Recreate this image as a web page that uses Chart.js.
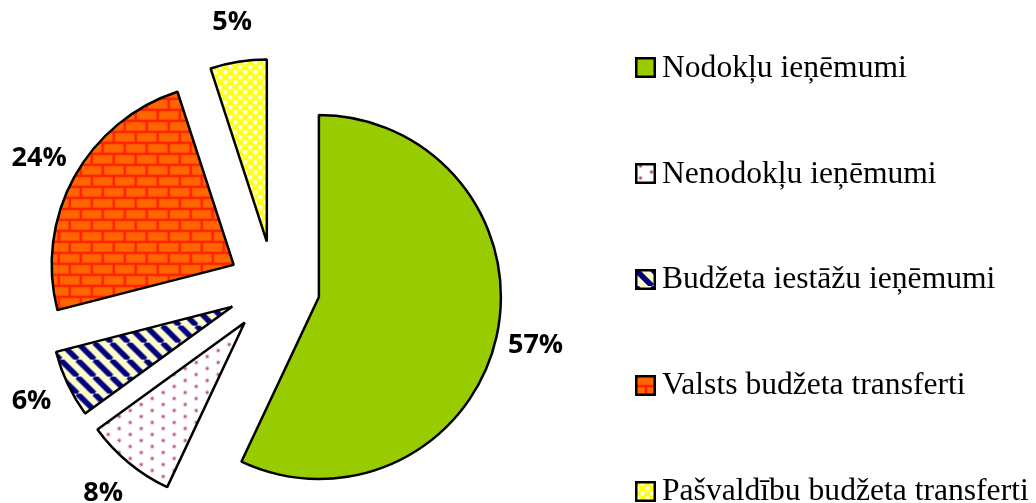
<!DOCTYPE html>
<html>
<head>
  <title>Ieņēmumu struktūra</title>
  <script src="https://cdn.jsdelivr.net/npm/chart.js"></script>
  <style>
    body {
      margin: 0;
      background: #fff;
      overflow: hidden;
    }

    .wrap {
      position: relative;
      width: 1036px;
      height: 503px;
    }

    .chart-box {
      position: absolute;
      left: 0;
      top: 0;
      width: 1036px;
      height: 503px;
    }

    /* legend on the right */
    .legend {
      position: absolute;
      left: 635px;
      top: 14px;
    }

    .legend-item {
      height: 105.8px;
      display: flex;
      align-items: center;
      font-family: 'Liberation Serif', 'Times New Roman', serif;
      font-size: 31.6px;
      color: #000;
      white-space: nowrap;
    }

    .legend-item canvas {
      width: 21px;
      height: 21px;
      margin-right: 6px;
      margin-top: 2px;
    }
  </style>
</head>
<body>
  <div class="wrap">
    <div class="chart-box"><canvas id="pieChart"></canvas></div>
    <div class="legend" id="legend"></div>
  </div>

  <script>
    // Data
    const labels = [
      'Nodokļu ieņēmumi',
      'Nenodokļu ieņēmumi',
      'Budžeta iestāžu ieņēmumi',
      'Valsts budžeta transferti',
      'Pašvaldību budžeta transferti'
    ];
    const shares = [57, 8, 6, 24, 5];

    // fill style for each slice, same order as labels
    const fills = ['solid', 'dots', 'stripes', 'bricks', 'spheres'];

    const explode = 46;     // how far every slice is pulled out
    const labelGap = 40;    // percentage label distance outside the rim

    // Pattern tiles (drawn roughly like the Excel fills)
    function makeFill(ctx, kind) {
      if (kind === 'solid') return '#99cc00';

      const tile = document.createElement('canvas');
      const t = tile.getContext('2d');

      if (kind === 'dots') {
        tile.width = 22; tile.height = 12;
        t.fillStyle = '#ffffff';
        t.fillRect(0, 0, 22, 12);
        [[5.5, 3], [16.5, 9]].forEach(p => {
          t.fillStyle = 'rgba(176,80,138,0.35)';
          t.beginPath(); t.arc(p[0], p[1], 2.2, 0, Math.PI * 2); t.fill();
          t.fillStyle = '#a8407e';
          t.beginPath(); t.arc(p[0], p[1], 1.2, 0, Math.PI * 2); t.fill();
        });
      } else if (kind === 'stripes') {
        tile.width = 17; tile.height = 17;
        t.fillStyle = '#ffffcc';
        t.fillRect(0, 0, 17, 17);
        t.strokeStyle = '#000080';
        t.lineWidth = 5.5;
        [-17, 0, 17].forEach(k => {
          t.beginPath(); t.moveTo(k, 0); t.lineTo(k + 17, 17); t.stroke();
        });
      } else if (kind === 'bricks') {
        tile.width = 22; tile.height = 22;
        t.fillStyle = '#ff2200';
        t.fillRect(0, 0, 22, 22);
        t.fillStyle = '#ff6600';
        t.fillRect(1.25, 1.25, 19.5, 8.5);
        t.fillRect(-9.75, 12.25, 19.5, 8.5);
        t.fillRect(12.25, 12.25, 19.5, 8.5);
      } else if (kind === 'spheres') {
        tile.width = 10; tile.height = 10;
        t.fillStyle = '#ffff00';
        t.fillRect(0, 0, 10, 10);
        t.fillStyle = '#ffffff';
        t.fillRect(5.5, 0.5, 4, 4);
        t.fillRect(0.5, 5.5, 4, 4);
        t.fillStyle = '#ffffb0';
        t.fillRect(1.5, 1, 2, 1);
        t.fillRect(6.5, 6, 2, 1);
      }
      return ctx.createPattern(tile, 'repeat');
    }

    const canvas = document.getElementById('pieChart');
    const ctx = canvas.getContext('2d');

    // Draw every slice pulled out along its middle angle
    const explodePlugin = {
      id: 'explode',
      beforeDatasetDraw(chart, args) {
        const c = chart.ctx;
        args.meta.data.forEach(arc => {
          const mid = (arc.startAngle + arc.endAngle) / 2;
          c.save();
          c.translate(Math.cos(mid) * explode, Math.sin(mid) * explode);
          arc.draw(c);
          c.restore();
        });
        return false;
      }
    };

    // Percentage labels outside each slice
    const percentPlugin = {
      id: 'percentLabels',
      afterDatasetsDraw(chart) {
        const c = chart.ctx;
        const meta = chart.getDatasetMeta(0);
        c.save();
        c.font = 'bold 27px "Open Sans", sans-serif';
        c.fillStyle = '#000';
        c.textAlign = 'center';
        c.textBaseline = 'middle';
        meta.data.forEach((arc, i) => {
          const mid = (arc.startAngle + arc.endAngle) / 2;
          const d = explode + arc.outerRadius + labelGap;
          c.fillText(shares[i] + '%', arc.x + Math.cos(mid) * d, arc.y + Math.sin(mid) * d);
        });
        c.restore();
      }
    };

    new Chart(canvas, {
      type: 'pie',
      data: {
        labels: labels,
        datasets: [{
          data: shares,
          backgroundColor: fills.map(f => makeFill(ctx, f)),
          borderColor: '#000',
          borderWidth: 2.5
        }]
      },
      options: {
        responsive: true,
        maintainAspectRatio: false,
        animation: false,
        radius: 182,
        layout: {
          padding: { left: 0, right: 488, top: 71, bottom: 0 }
        },
        plugins: {
          legend: { display: false },
          tooltip: { enabled: false }
        }
      },
      plugins: [explodePlugin, percentPlugin]
    });

    // HTML legend
    const legendEl = document.getElementById('legend');
    labels.forEach((name, i) => {
      const item = document.createElement('div');
      item.className = 'legend-item';
      const sw = document.createElement('canvas');
      sw.width = 21; sw.height = 21;
      const sctx = sw.getContext('2d');
      sctx.fillStyle = makeFill(sctx, fills[i]);
      sctx.fillRect(0, 0, 21, 21);
      sctx.strokeStyle = '#000';
      sctx.lineWidth = 2.5;
      sctx.strokeRect(1.25, 1.25, 18.5, 18.5);
      item.appendChild(sw);
      item.appendChild(document.createTextNode(name));
      legendEl.appendChild(item);
    });
  </script>
</body>
</html>
